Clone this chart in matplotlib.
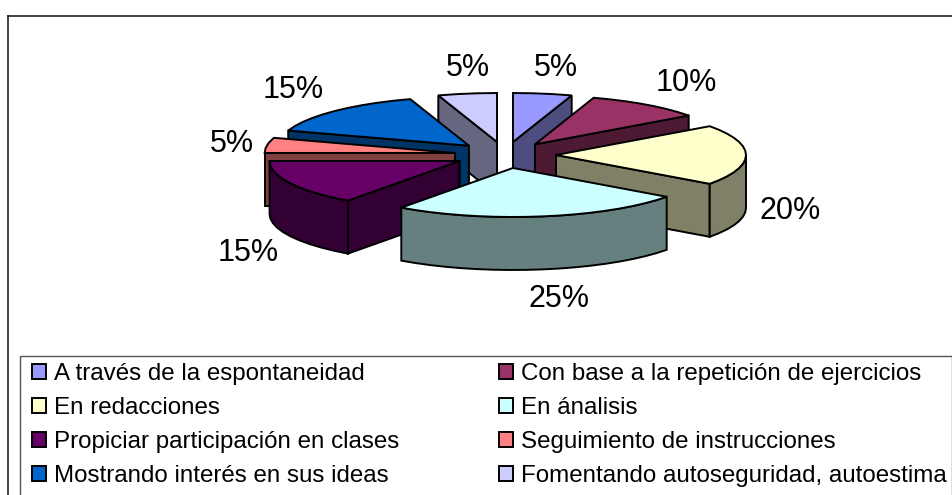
import numpy as np
import matplotlib
matplotlib.use('Agg')
import matplotlib.pyplot as plt
from matplotlib.patches import Polygon, Patch, Rectangle

plt.rcParams['font.family'] = ['Liberation Sans', 'DejaVu Sans']

# ── Data ─────────────────────────────────────────────────────────────────────
categories = ['A través de la espontaneidad', 'Con base a la repetición de ejercicios',
              'En redacciones', 'En ánalisis',
              'Propiciar participación en clases', 'Seguimiento de instrucciones',
              'Mostrando interés en sus ideas', 'Fomentando autoseguridad, autoestima']
values = [5, 10, 20, 25, 15, 5, 15, 5]
colors = ['#9999FF', '#993366', '#FFFFCC', '#CCFFFF',
          '#660066', '#FF8080', '#0066CC', '#CCCCFF']
wall_colors = ['#4D4D80', '#4D1A33', '#808066', '#668080',
               '#330033', '#804040', '#003366', '#666680']
draw_order = [7, 0, 1, 6, 5, 4, 2, 3]   # back to front

# ── Layout (pixels) ──────────────────────────────────────────────────────────
W, H = 953, 495
CX, CY = 505, 155
RX, RY = 190, 49
EXPLODE = 51 / 190
DEPTH = 53
LABEL_POS = [(556, 68), (686, 83), (790, 211), (559, 299),
             (248, 253), (232, 144), (293, 90), (468, 68)]

fig = plt.figure(figsize=(W / 100, H / 100), dpi=100, facecolor='white')
ax = fig.add_axes([0, 0, 1, 1])
ax.set_xlim(0, W)
ax.set_ylim(H, 0)
ax.axis('off')


def ring(theta):
    # angle in degrees, clockwise from 12 o'clock, on a unit pie seen from above
    t = np.radians(theta)
    return np.column_stack([RX * np.sin(t), -RY * np.cos(t)])


def face(pts, color, z):
    ax.add_patch(Polygon(pts, closed=True, facecolor=color, edgecolor='black',
                         lw=1.4, joinstyle='miter', zorder=z))


# ── Chart frame ──────────────────────────────────────────────────────────────
ax.plot([8.5, 8.5], [H + 5, 15.5], color='#111111', lw=1.1, zorder=1)
ax.plot([8.5, W + 5], [15.5, 15.5], color='#111111', lw=1.1, zorder=1)

# ── Slices ───────────────────────────────────────────────────────────────────
edges = np.concatenate([[0], np.cumsum(values)]) / np.sum(values) * 360

for z, i in enumerate(draw_order):
    a1, a2 = edges[i], edges[i + 1]
    mid = (a1 + a2) / 2
    apex = np.array([CX, CY]) + ring(mid)[0] * EXPLODE
    drop = np.array([0, DEPTH])
    arc = apex + ring(np.linspace(a1, a2, max(int((a2 - a1) / 5), 2) + 1))

    # radial walls, only those turned towards the viewer
    if np.cos(np.radians(a1 - 90)) < 0:
        face([apex, arc[0], arc[0] + drop, apex + drop], wall_colors[i], 10 + z)
    if np.cos(np.radians(a2 + 90)) < 0:
        face([apex, arc[-1], arc[-1] + drop, apex + drop], wall_colors[i], 10 + z)

    # outer wall, the part of the rim on the near half
    lo, hi = max(a1, 90), min(a2, 270)
    if hi > lo:
        rim = apex + ring(np.linspace(lo, hi, max(int((hi - lo) / 5), 2) + 1))
        face(np.vstack([rim, rim[::-1] + drop]), wall_colors[i], 10 + z)

    face(np.vstack([[apex], arc]), colors[i], 10 + z)

# ── Value labels ─────────────────────────────────────────────────────────────
for v, (x, y) in zip(values, LABEL_POS):
    ax.text(x, y, f'{v}%', fontsize=22, ha='center', va='center', color='black', zorder=40)

# ── Legend ───────────────────────────────────────────────────────────────────
# frame sits apart from the entries, its padding is wider at the sides than on top
ax.add_patch(Rectangle((20, 355.5), 932, H + 10 - 355.5, facecolor='white',
                       edgecolor='#555555', lw=1.0, zorder=45))

handles = [Patch(facecolor=c, edgecolor='black', lw=1.4) for c in colors]
# matplotlib fills the columns first, the reference reads across the rows
left, right = handles[0::2], handles[1::2]
left_lab, right_lab = categories[0::2], categories[1::2]
leg = ax.legend(left + right, left_lab + right_lab, ncol=2, loc='upper left',
                bbox_to_anchor=(32, 363), bbox_transform=ax.transData,
                fontsize=17.4, frameon=False, borderaxespad=0, borderpad=0,
                handlelength=0.6, handleheight=0.6, handletextpad=0.33,
                labelspacing=0.5, columnspacing=4.1)
leg.set_zorder(50)

fig.savefig('out.png', dpi=100)
